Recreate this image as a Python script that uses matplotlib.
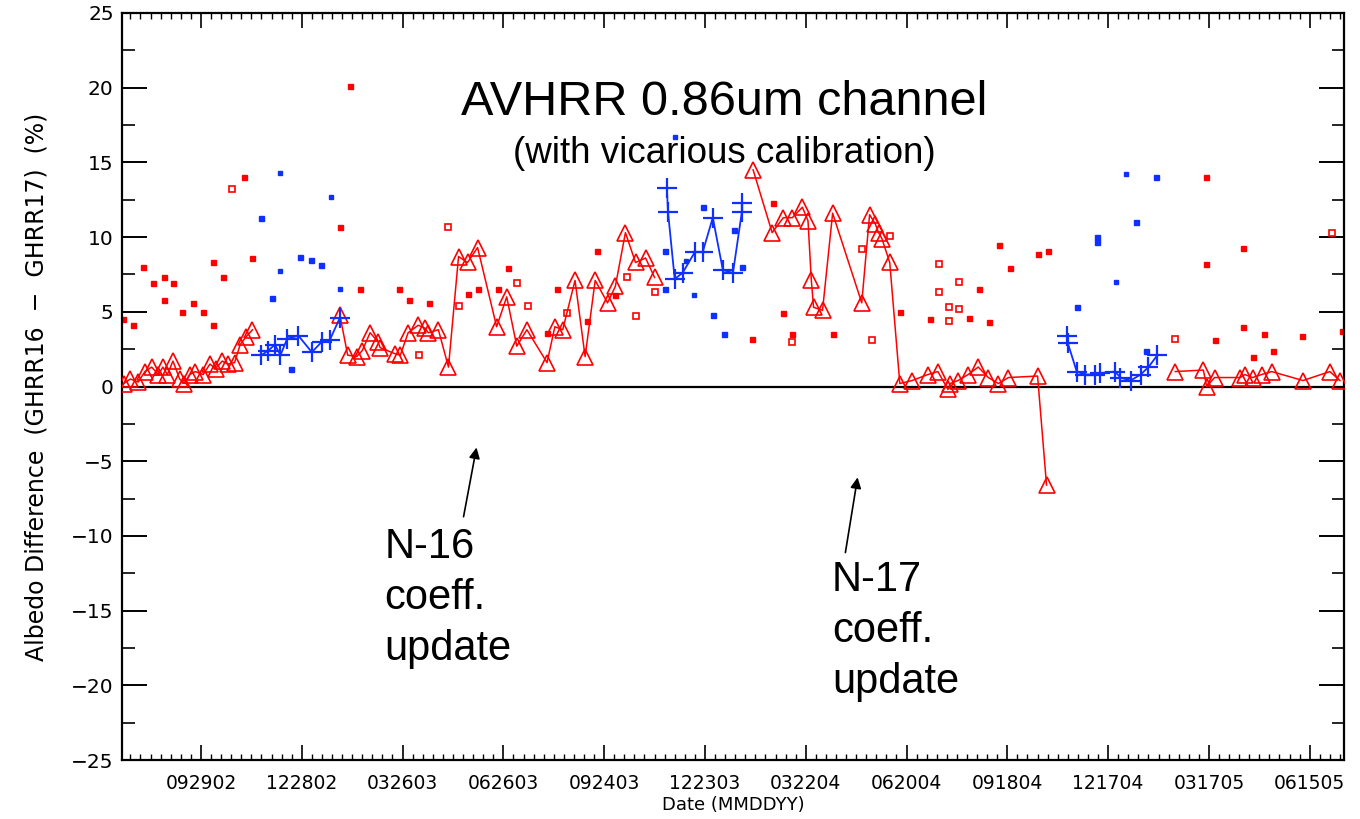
import numpy as np
import matplotlib
matplotlib.use("Agg")
import matplotlib.pyplot as plt
from matplotlib.ticker import MultipleLocator, FixedLocator, FixedFormatter

# ---- data (x: days since 2002-09-29, y: albedo difference %) ----
tick_days = [0, 90, 180, 270, 360, 450, 540, 630, 720, 810, 900, 990]
tick_labels = ["092902", "122802", "032603", "062603", "092403", "122303",
               "032204", "062004", "091804", "121704", "031705", "061505"]

red_line_x = [-69, -63, -56, -50, -44, -38, -34, -30, -25, -19, -15, -10, -5, 2, 8, 13, 19, 24, 30, 35, 40, 46,
              np.nan,
              124, 131, 139, 144, 151, 158, 160, 173, 178, 185, 194, 200, 203, 212, 221, 230, 238, 247,
              264, 273, 282, 291, 309, 316, 323, 334, 343, 352, 363, 370, 379, 388, 397, 405,
              np.nan,
              493, 510, 520, 528, 537, 542, 545, 547, 555, 564, 590, 597, 602, 605, 608, 615, 624,
              635, 649, 658, 667, 669, 676, 685, 694, 703, 712, 721, 747, 755,
              np.nan,
              870, 895, 898, 905, 928, 932, 939, 947, 956, 984, 1008, 1017]
red_line_y = [0.2, 0.5, 0.3, 1.0, 1.3, 0.8, 1.3, 0.8, 1.7, 0.5, 0.2, 0.8, 1.0, 0.8, 1.5, 1.2, 1.7, 1.5, 1.6, 2.8, 3.3, 3.8,
              np.nan,
              4.8, 2.1, 2.0, 2.4, 3.6, 3.0, 2.6, 2.2, 2.1, 3.6, 4.1, 3.9, 3.6, 3.8, 1.3, 8.7, 8.3, 9.3,
              4.0, 6.0, 2.7, 3.8, 1.6, 4.0, 3.8, 7.1, 2.0, 7.1, 5.6, 6.7, 10.3, 8.3, 8.6, 7.3,
              np.nan,
              14.5, 10.3, 11.3, 11.3, 12.0, 11.1, 7.1, 5.3, 5.1, 11.6, 5.6, 11.5, 10.9, 10.3, 9.9, 8.3, 0.2,
              0.4, 0.8, 1.0, -0.2, 0.2, 0.4, 0.8, 1.3, 0.6, 0.2, 0.6, 0.7, -6.6,
              np.nan,
              1.0, 1.1, 0.0, 0.6, 0.6, 0.8, 0.6, 0.8, 1.0, 0.4, 1.0, 0.4]

blue_line_x = [54, 60, 66, 71, 77, 87, 99, 108, 115, 124,
               np.nan,
               416, 417, 423, 430, 441, 448, 457, 466, 475, 483, 483,
               np.nan,
               773, 774, 782, 789, 798, 803, 816, 821, 830, 839, 846, 854]
blue_line_y = [2.1, 2.4, 2.8, 2.1, 3.2, 3.4, 2.3, 3.0, 3.1, 4.6,
               np.nan,
               13.3, 11.7, 7.2, 7.6, 9.0, 9.0, 11.3, 7.8, 7.6, 11.7, 12.3,
               np.nan,
               3.4, 2.9, 1.0, 0.8, 0.8, 0.9, 1.0, 0.6, 0.4, 0.8, 1.3, 2.1]

red_dot_x = [-70, -61, -52, -43, -33, -33, -25, -17, -7, 2, 11, 11, 20, 38, 46, 124, 133, 142, 177, 186,
             204, 238, 247, 265, 274, 309, 318, 345, 354, 370, 492, 511, 520, 528, 564, 624, 651, 686,
             695, 704, 713, 722, 747, 756, 897, 897, 905, 930, 930, 939, 949, 957, 983, 1019]
red_dot_y = [4.5, 4.1, 8.0, 6.9, 7.3, 5.8, 6.9, 5.0, 5.6, 5.0, 8.3, 4.1, 7.3, 14.0, 8.6, 10.7, 20.1, 6.5, 6.5, 5.8,
             5.6, 6.2, 6.5, 6.5, 7.9, 3.6, 6.5, 4.4, 9.1, 6.1, 3.2, 12.3, 4.9, 3.5, 3.5, 5.0, 4.5, 4.6,
             6.5, 4.3, 9.5, 7.9, 8.9, 9.1, 14.0, 8.2, 3.1, 9.3, 4.0, 2.0, 3.5, 2.4, 3.4, 3.7]

red_open_x = [28, 195, 221, 230, 282, 292, 327, 380, 388, 405, 528, 590, 599, 615, 659, 659, 668, 668,
              677, 677, 870, 1010]
red_open_y = [13.2, 2.1, 10.7, 5.4, 6.9, 5.4, 4.9, 7.3, 4.7, 6.3, 3.0, 9.2, 3.1, 10.1, 8.2, 6.3, 5.3, 4.4,
              7.0, 5.2, 3.2, 10.3]

blue_dot_x = [54, 63, 80, 88, 98, 107, 414, 414, 448, 457, 467, 476, 483, 782, 800, 800, 835, 853, 844]
blue_dot_y = [11.3, 5.9, 1.2, 8.7, 8.5, 8.1, 9.1, 6.5, 12.0, 4.8, 3.5, 10.5, 8.0, 5.3, 10.0, 9.7, 11.0, 14.0, 2.4]

blue_tiny_x = [71, 71, 116, 124, 423, 440, 433, 817, 826]
blue_tiny_y = [14.3, 7.7, 12.7, 6.5, 16.7, 6.1, 8.4, 7.0, 14.2]

# ---- figure ----
fig = plt.figure(figsize=(13.6, 8.19), dpi=100)
ax = fig.add_axes([122 / 1360, 1 - 760 / 819, (1344 - 122) / 1360, (760 - 13) / 819])

RED = "#ff0000"
BLUE = "#1030ff"

ax.axhline(0, color="black", lw=1.6, zorder=1)

ax.plot(red_line_x, red_line_y, color=RED, lw=1.1, marker="^", ms=11,
        mfc="none", mec=RED, mew=1.2, zorder=3)
ax.plot(blue_line_x, blue_line_y, color=BLUE, lw=1.3, marker="+", ms=15,
        mec=BLUE, mew=1.6, zorder=4)
ax.plot(red_dot_x, red_dot_y, ls="none", marker="s", ms=3.6, color=RED, zorder=2)
ax.plot(red_open_x, red_open_y, ls="none", marker="s", ms=5, mfc="white", mec=RED, mew=1.2, zorder=2)
ax.plot(blue_dot_x, blue_dot_y, ls="none", marker="s", ms=3.6, color=BLUE, zorder=2)
ax.plot(blue_tiny_x, blue_tiny_y, ls="none", marker="s", ms=2.2, color=BLUE, zorder=2)

ax.set_xlim(-70.5, 1020.6)
ax.set_ylim(-25, 25)

ax.xaxis.set_major_locator(FixedLocator(tick_days))
ax.xaxis.set_major_formatter(FixedFormatter(tick_labels))
ax.xaxis.set_minor_locator(MultipleLocator(9))
ax.yaxis.set_major_locator(MultipleLocator(5))
ax.yaxis.set_minor_locator(MultipleLocator(2.5))

tickfont = "DejaVu Sans"
ax.tick_params(axis="both", which="both", direction="in", top=True, right=True, colors="black")
ax.tick_params(axis="x", which="major", length=11, width=1.2, labelsize=13.5, pad=10)
ax.tick_params(axis="x", which="minor", length=4, width=1.0)
ax.tick_params(axis="y", which="major", length=18, width=1.4, labelsize=14.5, pad=6)
ax.tick_params(axis="y", which="minor", length=9, width=1.2)
for lab in ax.get_xticklabels() + ax.get_yticklabels():
    lab.set_fontfamily(tickfont)

for s in ax.spines.values():
    s.set_linewidth(1.6)

ax.set_xlabel("Date (MMDDYY)", fontsize=13, labelpad=2, family=tickfont)
ax.set_ylabel("Albedo Difference  (GHRR16  \u2212  GHRR17)  (%)", fontsize=17, labelpad=16, family=tickfont)

ax.text(467, 19.0, "AVHRR 0.86um channel", fontsize=35, family="Liberation Sans",
        ha="center", va="center")
ax.text(467, 15.6, "(with vicarious calibration)", fontsize=26.5, family="Liberation Sans",
        ha="center", va="center")

ax.text(164, -9.4, "N-16\ncoeff.\nupdate", fontsize=30, family="Liberation Sans",
        ha="left", va="top", linespacing=1.36)
ax.text(563.5, -11.6, "N-17\ncoeff.\nupdate", fontsize=30, family="Liberation Sans",
        ha="left", va="top", linespacing=1.36)

ax.annotate("", xy=(246.5, -3.9), xytext=(234, -8.9),
            arrowprops=dict(arrowstyle="-|>", color="black", lw=1.2, mutation_scale=16))
ax.annotate("", xy=(586.7, -5.9), xytext=(575, -11.3),
            arrowprops=dict(arrowstyle="-|>", color="black", lw=1.2, mutation_scale=16))

fig.savefig("out.png", dpi=100, facecolor="white")
